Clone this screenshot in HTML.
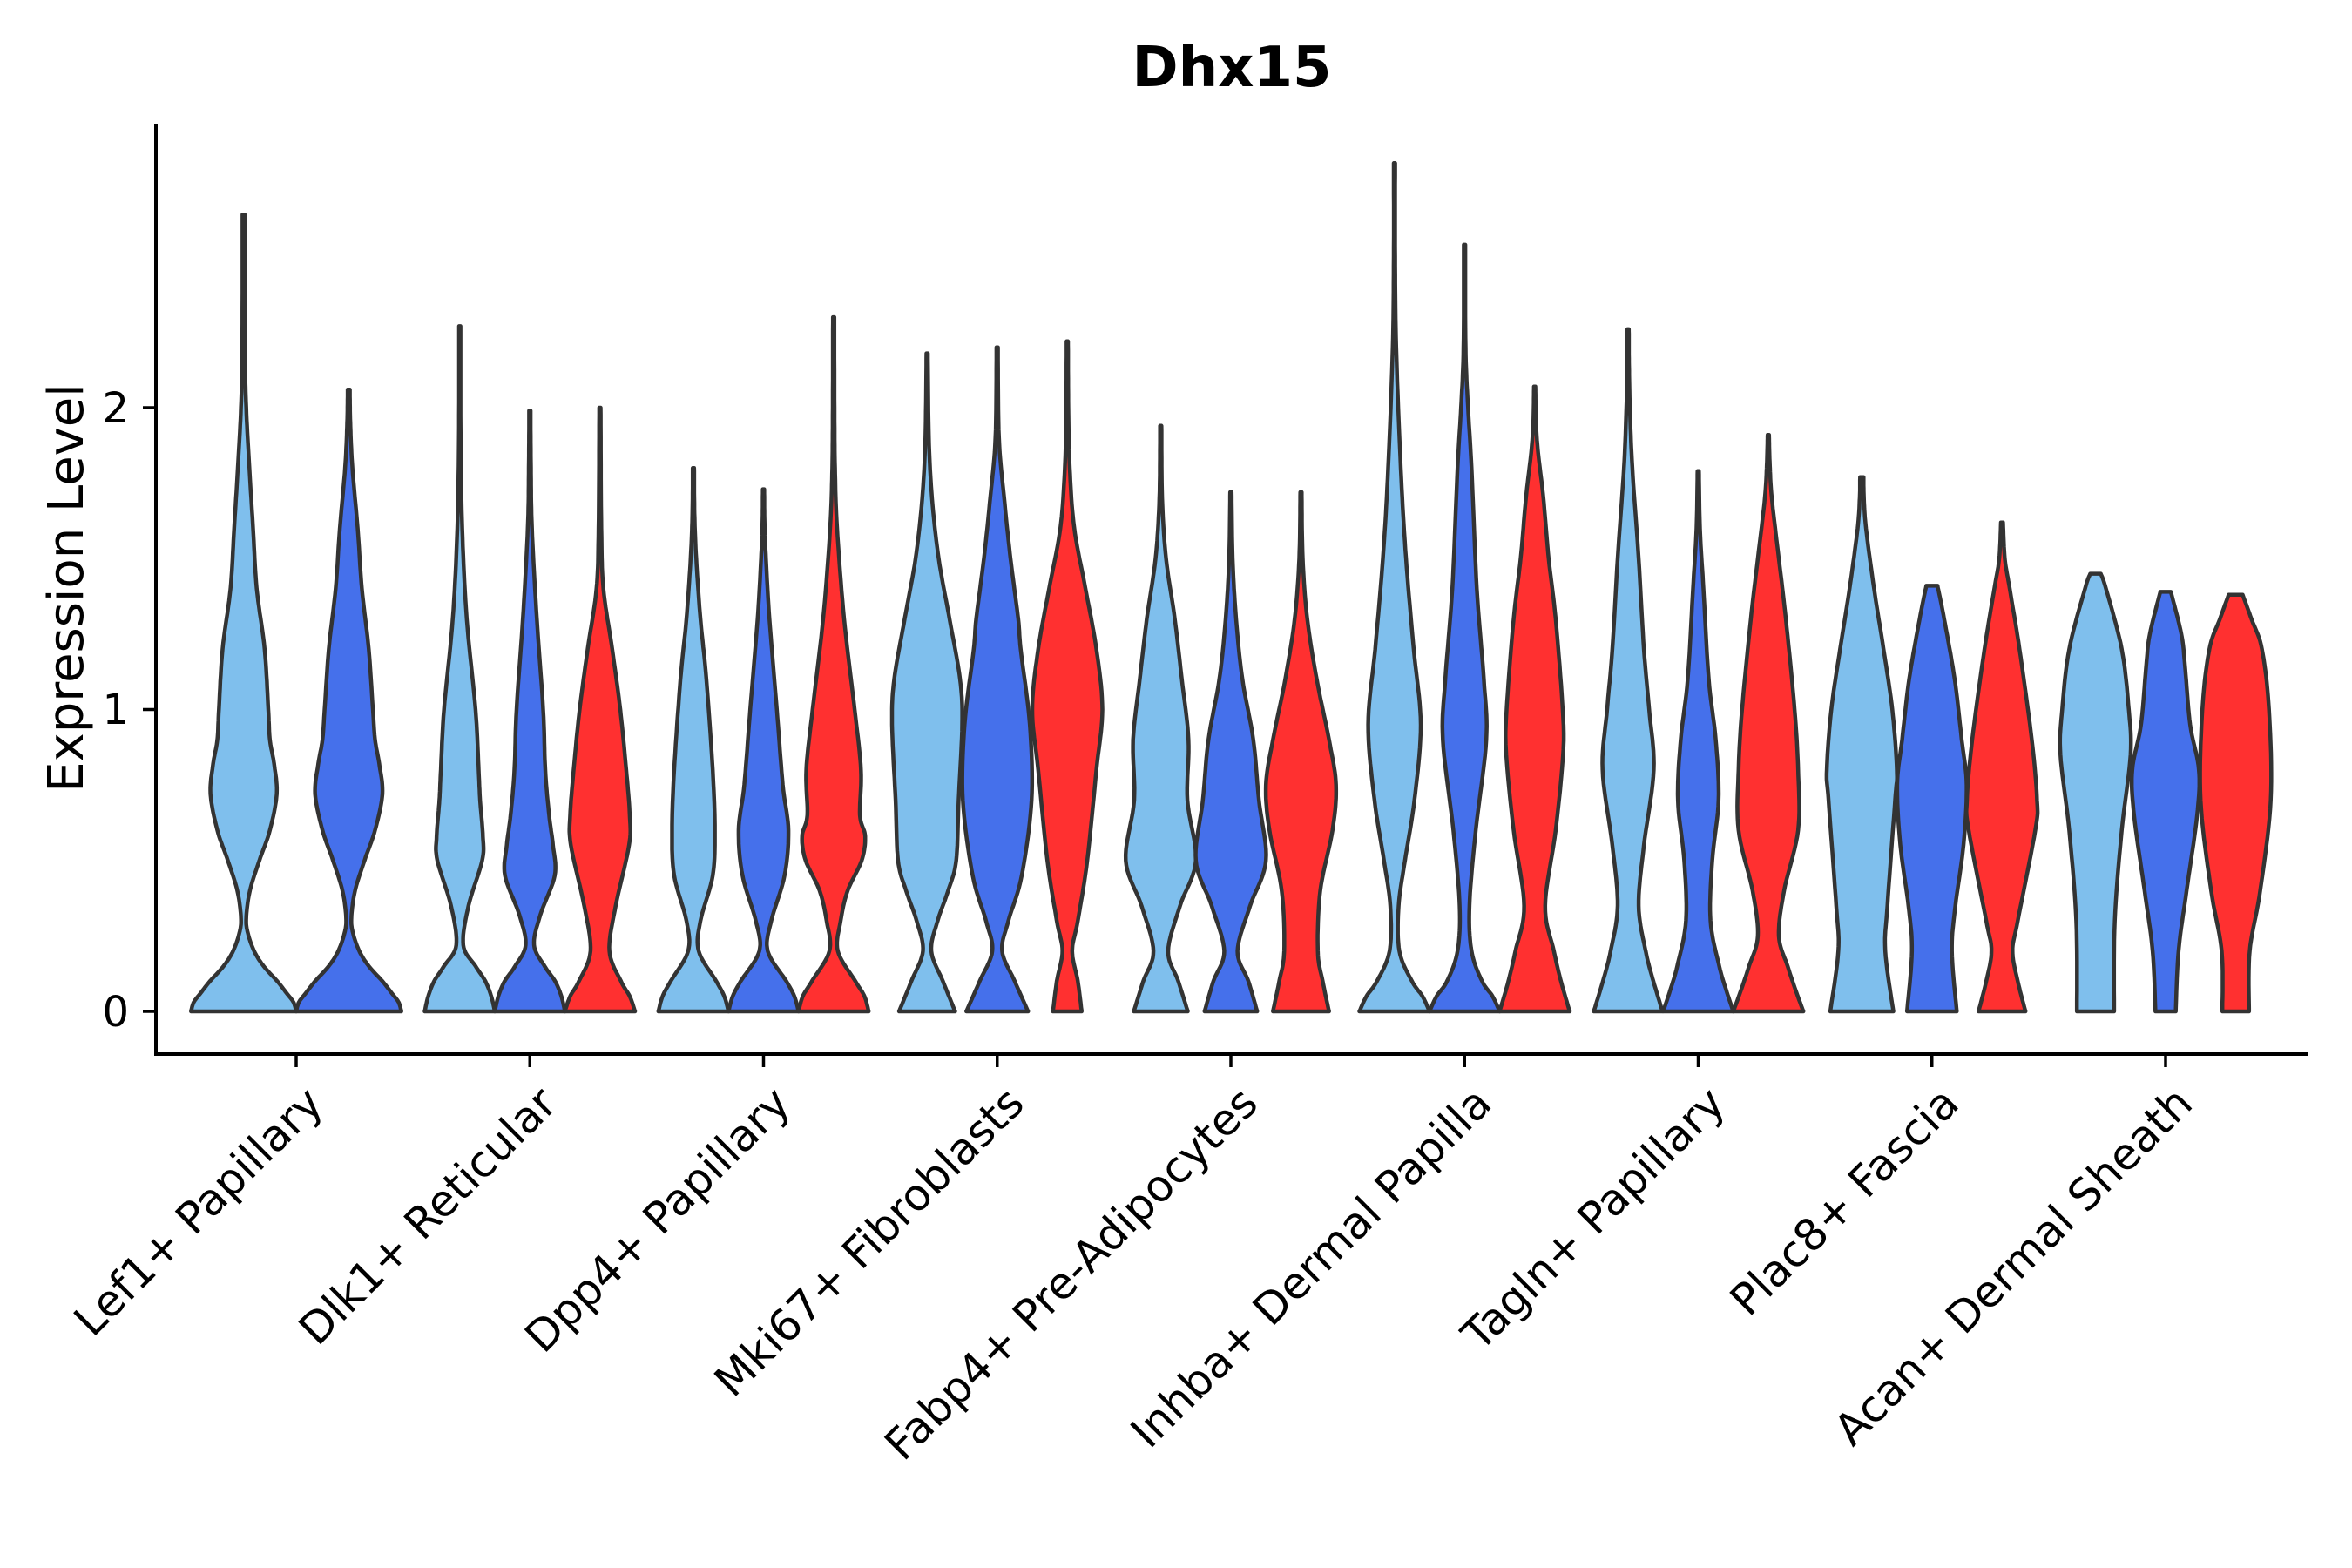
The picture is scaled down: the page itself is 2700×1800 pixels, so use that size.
<!DOCTYPE html>
<html><head><meta charset="utf-8"><style>
html,body{margin:0;padding:0;background:#fff;}
svg{display:block;}
text{font-family:"DejaVu Sans","Liberation Sans",sans-serif;fill:#000;}
</style></head><body>
<svg id="s" xmlns="http://www.w3.org/2000/svg" width="2700" height="1800" viewBox="0 0 2700 1800">
<rect width="2700" height="1800" fill="#fff"/>
<g id="v"></g>
<line x1="179" y1="142" x2="179" y2="1212" stroke="#000" stroke-width="4"/>
<line x1="177" y1="1210" x2="2649" y2="1210" stroke="#000" stroke-width="4"/>
<g stroke="#000" stroke-width="3.5">
<line x1="164" y1="1161" x2="179" y2="1161"/>
<line x1="164" y1="814.5" x2="179" y2="814.5"/>
<line x1="164" y1="468" x2="179" y2="468"/>
</g>
<g font-size="48" text-anchor="end">
<text x="148" y="1178">0</text>
<text x="148" y="831">1</text>
<text x="148" y="485">2</text>
</g>
<text x="0" y="0" font-size="56" text-anchor="middle" transform="translate(95,675) rotate(-90)">Expression Level</text>
<text x="1414" y="99" font-size="64" font-weight="bold" text-anchor="middle">Dhx15</text>
<g id="xt"></g>
</svg>
<script>
var y0=1161,U=346.5;
var ticks=[];for(var i=0;i<9;i++)ticks.push(340+268.25*i);
var names=["Lef1+ Papillary","Dlk1+ Reticular","Dpp4+ Papillary","Mki67+ Fibroblasts","Fabp4+ Pre-Adipocytes","Inhba+ Dermal Papilla","Tagln+ Papillary","Plac8+ Fascia","Acan+ Dermal Sheath"];
var C=["#7FBFED","#4570EB","#FF3030"];
var P=[
[[2.64,0.02,[[0,1],[0.03,0.95],[0.06,0.82],[0.1,0.64],[0.15,0.38],[0.2,0.2],[0.26,0.08],[0.31,0.05],[0.4,0.12],[0.5,0.3],[0.6,0.5],[0.72,0.63],[0.82,0.58],[0.9,0.5],[1.0,0.47],[1.2,0.4],[1.4,0.25],[1.6,0.18],[1.8,0.11],[2.0,0.05],[2.2,0.025]]],
 [2.06,0.02,[[0,1],[0.03,0.95],[0.06,0.82],[0.1,0.64],[0.15,0.38],[0.2,0.2],[0.26,0.08],[0.31,0.05],[0.4,0.12],[0.5,0.3],[0.6,0.5],[0.72,0.64],[0.82,0.58],[0.9,0.5],[1.0,0.46],[1.2,0.38],[1.4,0.25],[1.6,0.17],[1.8,0.07],[1.95,0.03]]]],
[[2.27,0.02,[[0,1],[0.05,0.9],[0.1,0.73],[0.15,0.45],[0.22,0.1],[0.35,0.25],[0.5,0.64],[0.58,0.66],[0.7,0.58],[0.8,0.54],[1.0,0.45],[1.3,0.2],[1.6,0.07],[1.9,0.025]]],
 [1.99,0.02,[[0,1],[0.05,0.9],[0.1,0.72],[0.15,0.42],[0.22,0.12],[0.32,0.3],[0.45,0.71],[0.55,0.66],[0.65,0.55],[0.8,0.44],[1.0,0.38],[1.3,0.2],[1.6,0.06],[1.8,0.03]]],
 [2.0,0.02,[[0,1],[0.05,0.85],[0.1,0.6],[0.2,0.27],[0.35,0.45],[0.55,0.83],[0.65,0.85],[0.8,0.75],[1.0,0.58],[1.2,0.35],[1.4,0.1],[1.6,0.04]]]],
[[1.80,0.02,[[0,1],[0.05,0.88],[0.1,0.65],[0.2,0.15],[0.3,0.2],[0.45,0.55],[0.6,0.61],[0.8,0.55],[1.1,0.37],[1.3,0.2],[1.5,0.08],[1.65,0.03]]],
 [1.73,0.02,[[0,1],[0.05,0.88],[0.1,0.65],[0.2,0.12],[0.3,0.22],[0.45,0.6],[0.6,0.71],[0.75,0.55],[1.0,0.38],[1.3,0.17],[1.5,0.07],[1.62,0.03]]],
 [2.30,0.02,[[0,1],[0.05,0.88],[0.1,0.62],[0.2,0.12],[0.3,0.2],[0.4,0.4],[0.5,0.8],[0.58,0.9],[0.65,0.75],[0.8,0.78],[1.0,0.6],[1.3,0.3],[1.6,0.1],[1.8,0.04],[2.0,0.025]]]],
[[2.18,0.02,[[0,0.8],[0.1,0.45],[0.2,0.12],[0.3,0.3],[0.4,0.6],[0.5,0.83],[0.7,0.9],[0.95,1.0],[1.1,0.94],[1.3,0.64],[1.5,0.33],[1.7,0.14],[1.9,0.05]]],
 [2.20,0.02,[[0,0.88],[0.1,0.5],[0.2,0.14],[0.3,0.32],[0.45,0.7],[0.7,0.98],[0.95,0.93],[1.2,0.67],[1.3,0.6],[1.5,0.38],[1.7,0.2],[1.9,0.05]]],
 [2.22,0.02,[[0,0.41],[0.1,0.3],[0.2,0.14],[0.3,0.3],[0.5,0.57],[0.8,0.83],[1.0,1.0],[1.2,0.83],[1.4,0.52],[1.6,0.2],[1.8,0.07],[2.0,0.03]]]],
[[1.94,0.02,[[0,0.77],[0.1,0.5],[0.2,0.21],[0.35,0.55],[0.5,1.0],[0.7,0.76],[0.9,0.79],[1.1,0.6],[1.3,0.4],[1.5,0.15],[1.7,0.04]]],
 [1.72,0.02,[[0,0.75],[0.1,0.5],[0.2,0.19],[0.35,0.55],[0.5,1.0],[0.7,0.8],[0.9,0.64],[1.1,0.33],[1.3,0.15],[1.5,0.05]]],
 [1.72,0.02,[[0,0.8],[0.1,0.62],[0.2,0.48],[0.4,0.55],[0.6,0.9],[0.75,1.0],[0.9,0.8],[1.1,0.45],[1.3,0.18],[1.5,0.05]]]],
[[2.81,0.02,[[0,1],[0.05,0.8],[0.1,0.5],[0.2,0.14],[0.35,0.12],[0.5,0.3],[0.7,0.57],[0.95,0.75],[1.2,0.55],[1.5,0.33],[1.8,0.18],[2.2,0.05],[2.5,0.02]]],
 [2.54,0.02,[[0,1],[0.05,0.8],[0.1,0.5],[0.2,0.2],[0.35,0.14],[0.6,0.32],[0.9,0.62],[1.1,0.55],[1.4,0.35],[1.8,0.2],[2.0,0.1],[2.2,0.03]]],
 [2.07,0.02,[[0,1],[0.1,0.75],[0.2,0.55],[0.35,0.3],[0.6,0.6],[0.85,0.81],[1.0,0.8],[1.3,0.6],[1.5,0.4],[1.7,0.25],[1.85,0.1],[1.95,0.04]]]],
[[2.26,0.02,[[0,0.98],[0.1,0.72],[0.2,0.5],[0.35,0.3],[0.55,0.45],[0.8,0.73],[1.0,0.6],[1.2,0.45],[1.5,0.3],[1.8,0.12],[2.0,0.05],[2.15,0.025]]],
 [1.79,0.02,[[0,1],[0.07,0.8],[0.15,0.6],[0.3,0.35],[0.5,0.4],[0.7,0.58],[0.9,0.5],[1.1,0.3],[1.4,0.15],[1.6,0.05]]],
 [1.91,0.02,[[0,1],[0.07,0.78],[0.15,0.55],[0.25,0.3],[0.4,0.45],[0.6,0.85],[0.8,0.85],[1.0,0.75],[1.3,0.5],[1.5,0.3],[1.7,0.1],[1.82,0.04]]]],
[[1.77,0.05,[[0,0.9],[0.2,0.67],[0.35,0.73],[0.7,0.95],[0.8,1.0],[1.0,0.87],[1.2,0.62],[1.4,0.35],[1.6,0.12],[1.7,0.06]]],
 [1.41,0.16,[[0,0.71],[0.2,0.57],[0.35,0.67],[0.55,0.9],[0.75,0.99],[0.9,0.85],[1.1,0.65],[1.3,0.35]]],
 [1.62,0.03,[[0,0.67],[0.1,0.45],[0.2,0.3],[0.3,0.45],[0.6,0.95],[0.7,1.0],[0.9,0.85],[1.2,0.5],[1.4,0.22],[1.5,0.08]]]],
[[1.45,0.15,[[0,0.53],[0.3,0.55],[0.6,0.75],[0.85,1.0],[1.0,0.95],[1.2,0.75],[1.4,0.3]]],
 [1.39,0.15,[[0,0.29],[0.2,0.37],[0.4,0.6],[0.65,0.9],[0.8,0.95],[0.95,0.7],[1.15,0.55],[1.25,0.45]]],
 [1.38,0.2,[[0,0.38],[0.2,0.4],[0.4,0.7],[0.7,1.0],[1.0,0.95],[1.2,0.75],[1.3,0.45]]]]
];
function Y(v){return y0-v*U;}
function path(cx,hw,pr){
  var top=pr[0],tw=pr[1],pts=pr[2].slice();
  pts.push([top,tw]);
  var d=[];
  for(var i=0;i<pts.length-1;i++){
    var p0=pts[Math.max(0,i-1)],p1=pts[i],p2=pts[i+1],p3=pts[Math.min(pts.length-1,i+2)];
    for(var t=0;t<1;t+=0.1){
      var t2=t*t,t3=t2*t;
      var f=function(a,b,c,e){return 0.5*((2*b)+(-a+c)*t+(2*a-5*b+4*c-e)*t2+(-a+3*b-3*c+e)*t3);};
      var yy=f(p0[0],p1[0],p2[0],p3[0]),ww=Math.max(0.012,f(p0[1],p1[1],p2[1],p3[1]));
      d.push([yy,ww]);
    }
  }
  d.push(pts[pts.length-1]);
  var s="M"+(cx-d[0][1]*hw).toFixed(1)+","+Y(0).toFixed(1);
  for(var j=0;j<d.length;j++)s+="L"+(cx+d[j][1]*hw).toFixed(1)+","+Y(d[j][0]).toFixed(1);
  for(var j=d.length-1;j>=0;j--)s+="L"+(cx-d[j][1]*hw).toFixed(1)+","+Y(d[j][0]).toFixed(1);
  return s+"Z";
}
var g=document.getElementById("v"),out="";
for(var i=0;i<9;i++){
  var n=P[i].length,w=241.4/n;
  for(var k=0;k<n;k++){
    var cx=ticks[i]+(k-(n-1)/2)*w;
    out+='<path d="'+path(cx,w/2,P[i][k])+'" fill="'+C[k]+'" stroke="#333" stroke-width="4.5" stroke-linejoin="round"/>';
  }
}
g.innerHTML=out;
var xt="";
for(var i=0;i<9;i++){
  xt+='<line x1="'+ticks[i]+'" y1="1210" x2="'+ticks[i]+'" y2="1225" stroke="#000" stroke-width="3.5"/>';
  xt+='<text font-size="50" text-anchor="end" transform="translate('+(ticks[i]+8)+',1244) rotate(-45)" dy="0.72em">'+names[i]+'</text>';
}
document.getElementById("xt").innerHTML=xt;
</script>
</body></html>
